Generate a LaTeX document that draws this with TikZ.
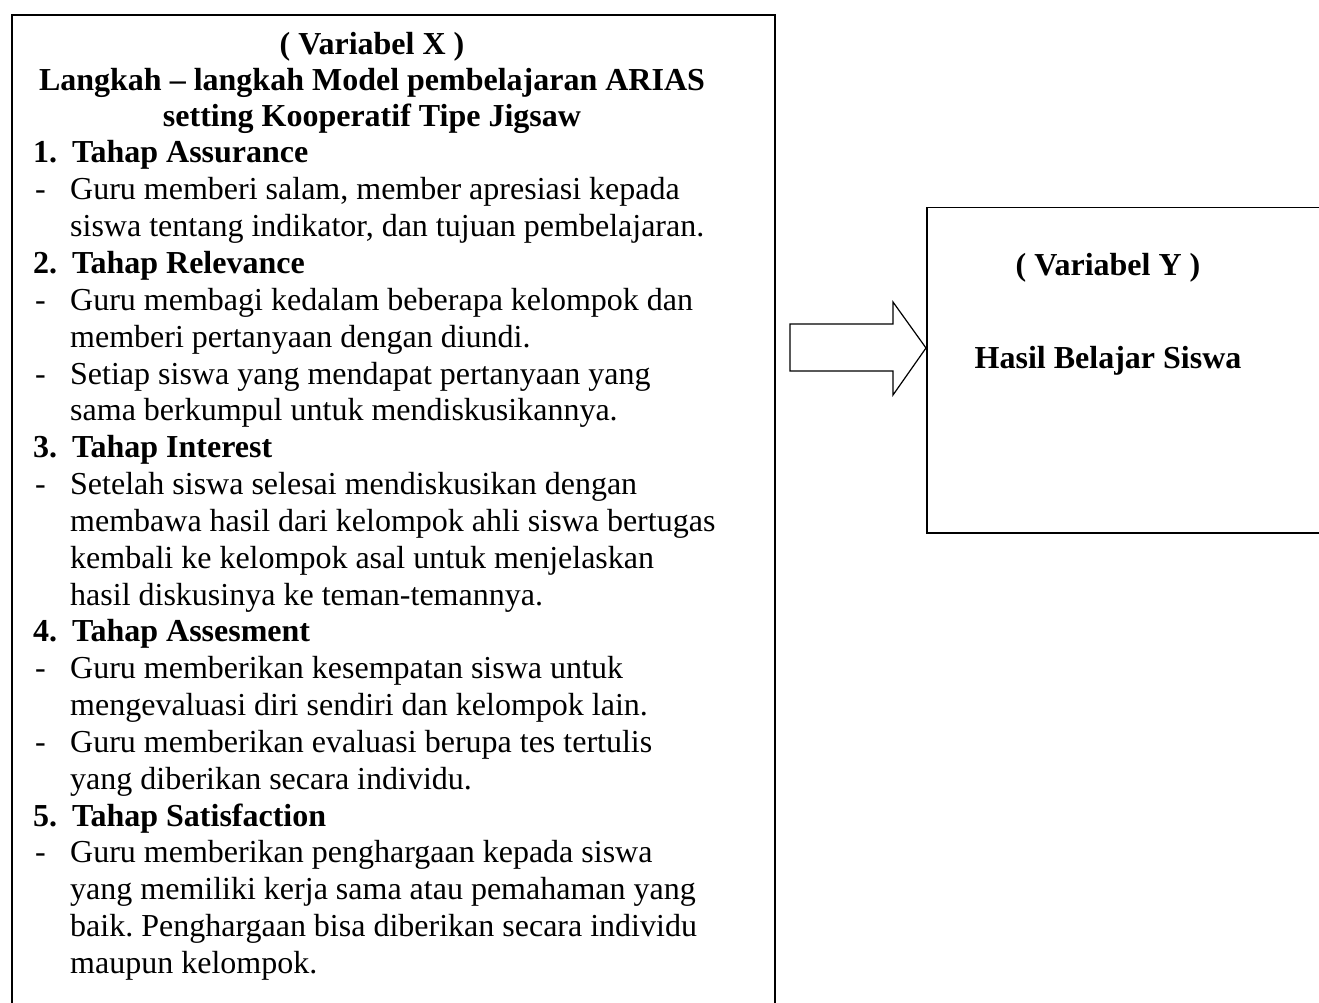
\documentclass[tikz,border=0pt]{standalone}
\usepackage{fontspec}
\setmainfont{Liberation Serif}
\frenchspacing
\begin{document}
\begin{tikzpicture}[x=1pt,y=-1pt,
  frame/.style={draw=black, line width=1.6pt, rectangle, inner sep=0, anchor=north west},
  body/.style={anchor=base west, inner sep=0, font=\fontsize{32}{36}\selectfont},
  head/.style={anchor=base west, inner sep=0, font=\fontsize{32}{36}\selectfont\bfseries},
  ttl/.style={anchor=base, inner sep=0, font=\fontsize{32}{36}\selectfont\bfseries},
  blockarrow/.style={draw=black, line width=1.2pt, line join=miter, fill=white}]
\useasboundingbox (0,0) rectangle (1319,1003);
\clip (0,0) rectangle (1319,1003);
% boxes
\node[frame, minimum width=763pt, minimum height=1000pt] (lbox) at (11,14) {};
\node[frame, minimum width=420pt, minimum height=325.3pt] (rbox) at (926,206.7) {};
% titles
\node[ttl] (t1) at (372,54.5) {( Variabel X )};
\node[ttl] (t2) at (372,90.5) {Langkah – langkah Model pembelajaran ARIAS};
\node[ttl] (t3) at (372,126.5) {setting Kooperatif Tipe Jigsaw};
% stage 1
\node[head] (n1) at (33,163) {1.};
\node[head] (h1) at (72,163) {Tahap Assurance};
\node[body] (d1) at (35,199.8) {-};
\node[body] (l1) at (70,199.8) {Guru memberi salam, member apresiasi kepada};
\node[body] (l2) at (70,236.7) {siswa tentang indikator, dan tujuan pembelajaran.};
% stage 2
\node[head] (n2) at (33,273.5) {2.};
\node[head] (h2) at (72,273.5) {Tahap Relevance};
\node[body] (d2) at (35,310.3) {-};
\node[body] (l3) at (70,310.3) {Guru membagi kedalam beberapa kelompok dan};
\node[body] (l4) at (70,347.2) {memberi pertanyaan dengan diundi.};
\node[body] (d3) at (35,384) {-};
\node[body] (l5) at (70,384) {Setiap siswa yang mendapat pertanyaan yang};
\node[body] (l6) at (70,420.8) {sama berkumpul untuk mendiskusikannya.};
% stage 3
\node[head] (n3) at (33,457.7) {3.};
\node[head] (h3) at (72,457.7) {Tahap Interest};
\node[body] (d4) at (35,494.5) {-};
\node[body] (l7) at (70,494.5) {Setelah siswa selesai mendiskusikan dengan};
\node[body] (l8) at (70,531.3) {membawa hasil dari kelompok ahli siswa bertugas};
\node[body] (l9) at (70,568.2) {kembali ke kelompok asal untuk menjelaskan};
\node[body] (l10) at (70,605) {hasil diskusinya ke teman-temannya.};
% stage 4
\node[head] (n4) at (33,641.8) {4.};
\node[head] (h4) at (72,641.8) {Tahap Assesment};
\node[body] (d5) at (35,678.7) {-};
\node[body] (l11) at (70,678.7) {Guru memberikan kesempatan siswa untuk};
\node[body] (l12) at (70,715.5) {mengevaluasi diri sendiri dan kelompok lain.};
\node[body] (d6) at (35,752.3) {-};
\node[body] (l13) at (70,752.3) {Guru memberikan evaluasi berupa tes tertulis};
\node[body] (l14) at (70,789.2) {yang diberikan secara individu.};
% stage 5
\node[head] (n5) at (33,826) {5.};
\node[head] (h5) at (72,826) {Tahap Satisfaction};
\node[body] (d7) at (35,862.8) {-};
\node[body] (l15) at (70,862.8) {Guru memberikan penghargaan kepada siswa};
\node[body] (l16) at (70,899.7) {yang memiliki kerja sama atau pemahaman yang};
\node[body] (l17) at (70,936.5) {baik. Penghargaan bisa diberikan secara individu};
\node[body] (l18) at (70,973.3) {maupun kelompok.};
% right box text
\node[ttl] (y1) at (1108,275) {( Variabel Y )};
\node[ttl] (y2) at (1108,368) {Hasil Belajar Siswa};
% block arrow
\coordinate (tip) at (rbox.west |- 0,348);
\draw[blockarrow] (790,324) -- (893,324) -- (893,302) -- (tip) -- (893,395) -- (893,371) -- (790,371) -- cycle;
\end{tikzpicture}
\end{document}
